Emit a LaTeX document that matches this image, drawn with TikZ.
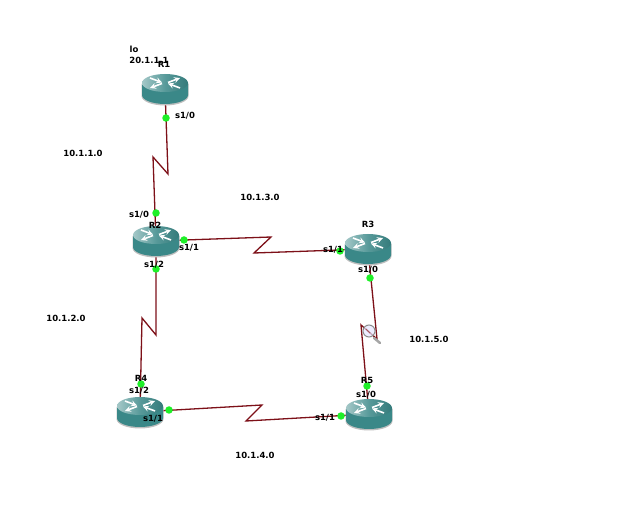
\documentclass[tikz,border=0pt]{standalone}
\usepackage{xcolor}
\usepackage{fontspec}
\setmainfont{DejaVu Sans}
\usepackage{tikz}
\usetikzlibrary{arrows,positioning,calc,backgrounds,shapes}
\definecolor{routerteal}{RGB}{58,136,136}
\definecolor{routerlight}{RGB}{165,200,200}
\definecolor{linkred}{RGB}{125,16,24}
\definecolor{portgreen}{RGB}{30,240,40}

\begin{document}
\begin{tikzpicture}[x=1pt, y=-1pt, >=stealth]
  \tikzstyle{router} = [rectangle, inner sep=0pt, minimum width=49pt, minimum height=33pt, path picture={
    \begin{scope}[shift={(path picture bounding box.center)}]
      \fill[black!25] (-23.5,-5) -- (-23.5,7) arc[start angle=180, end angle=0, x radius=23.5, y radius=9.5] -- (23.5,-5) -- cycle;
      \fill[routerteal] (-23,-6) -- (-23,6) arc[start angle=180, end angle=0, x radius=23, y radius=9] -- (23,-6) -- cycle;
      \shade[left color=routerlight, right color=routerteal!90!black, middle color=routerteal!85!white] (0,-6) ellipse[x radius=23, y radius=9];
      \draw[white, line width=1.6pt, -stealth] (-15,-11) -- (-3,-6.5);
      \draw[white, line width=1.6pt, -stealth] (3,-6.5) -- (15,-11);
      \draw[white, line width=1.6pt, -stealth] (-3,-5.5) -- (-15,-1);
      \draw[white, line width=1.6pt, -stealth] (15,-1) -- (3,-5.5);
    \end{scope}}]
  \tikzstyle{port} = [circle, fill=portgreen, inner sep=0pt, minimum size=7.5pt]
  \tikzstyle{link} = [draw=linkred, line width=1.3pt]
  \tikzstyle{lbl} = [inner sep=0pt, font=\fontsize{8.5}{8.5}\selectfont\bfseries]

  \useasboundingbox (0,0) rectangle (622,505);

  % routers
  \node[router] (R1) at (165,89) {};
  \node[router] (R2) at (156,241) {};
  \node[router] (R3) at (368,249) {};
  \node[router] (R4) at (140,412) {};
  \node[router] (R5) at (369,414) {};

  % bends of the serial links
  \coordinate (a1) at (168,174);
  \coordinate (a2) at (153,157);
  \coordinate (b1) at (271,237);
  \coordinate (b2) at (254,253);
  \coordinate (c1) at (156,335);
  \coordinate (c2) at (142,318);
  \coordinate (d1) at (262,405);
  \coordinate (d2) at (246,421);
  \coordinate (e1) at (377,339);
  \coordinate (e2) at (361,325);

  \begin{scope}[on background layer]
    \draw[link] (R1.center) -- (a1) -- (a2) -- (R2.center);
    \draw[link] (R2.center) -- (b1) -- (b2) -- (R3.center);
    \draw[link] (R2.center) -- (c1) -- (c2) -- (R4.center);
    \draw[link] (R4.center) -- (d1) -- (d2) -- (R5.center);
    \draw[link] (R3.center) -- (e1) -- (e2) -- (R5.center);
  \end{scope}

  % capture icon
  \node[inner sep=0pt, minimum size=26pt, path picture={
    \begin{scope}[shift={(path picture bounding box.center)}]
      \draw[black!35, line width=2.5pt, line cap=round] (3,3) -- (9,8);
      \draw[black!45, line width=1pt, fill=blue!10, fill opacity=0.7] (-2,-4) circle[radius=6];
      \draw[linkred!70, line width=0.8pt] (-5,-6) -- (-1,-2);
    \end{scope}}] (cap) at (371,335) {};

  % ports
  \node[port] (p1) at (166,118) {};
  \node[port] (p2) at (156,213) {};
  \node[port] (p3) at (184,240) {};
  \node[port] (p4) at (156,269) {};
  \node[port] (p5) at (340,251) {};
  \node[port] (p6) at (370,278) {};
  \node[port] (p7) at (141,384) {};
  \node[port] (p8) at (169,410) {};
  \node[port] (p9) at (367,386) {};
  \node[port] (p10) at (341,416) {};

  % router names
  \node[lbl] (lo) at (134,49) {lo};
  \node[lbl] (loip) at (149,60) {20.1.1.1};
  \node[lbl] (n1) at (164,64) {R1};
  \node[lbl] (n2) at (155,225) {R2};
  \node[lbl] (n3) at (368,224) {R3};
  \node[lbl] (n4) at (141,378) {R4};
  \node[lbl] (n5) at (367,380) {R5};

  % interface names
  \node[lbl] (t1) at (185,116) {s1/0};
  \node[lbl] (t2) at (139,215) {s1/0};
  \node[lbl] (t3) at (189,248) {s1/1};
  \node[lbl] (t4) at (154,265) {s1/2};
  \node[lbl] (t5) at (333,250) {s1/1};
  \node[lbl] (t6) at (368,270) {s1/0};
  \node[lbl] (t7) at (139,391) {s1/2};
  \node[lbl] (t8) at (153,419) {s1/1};
  \node[lbl] (t9) at (366,395) {s1/0};
  \node[lbl] (t10) at (325,418) {s1/1};

  % networks
  \node[lbl] (net1) at (83,153) {10.1.1.0};
  \node[lbl] (net2) at (66,318) {10.1.2.0};
  \node[lbl] (net3) at (260,197) {10.1.3.0};
  \node[lbl] (net4) at (255,455) {10.1.4.0};
  \node[lbl] (net5) at (429,339) {10.1.5.0};
\end{tikzpicture}
\end{document}
